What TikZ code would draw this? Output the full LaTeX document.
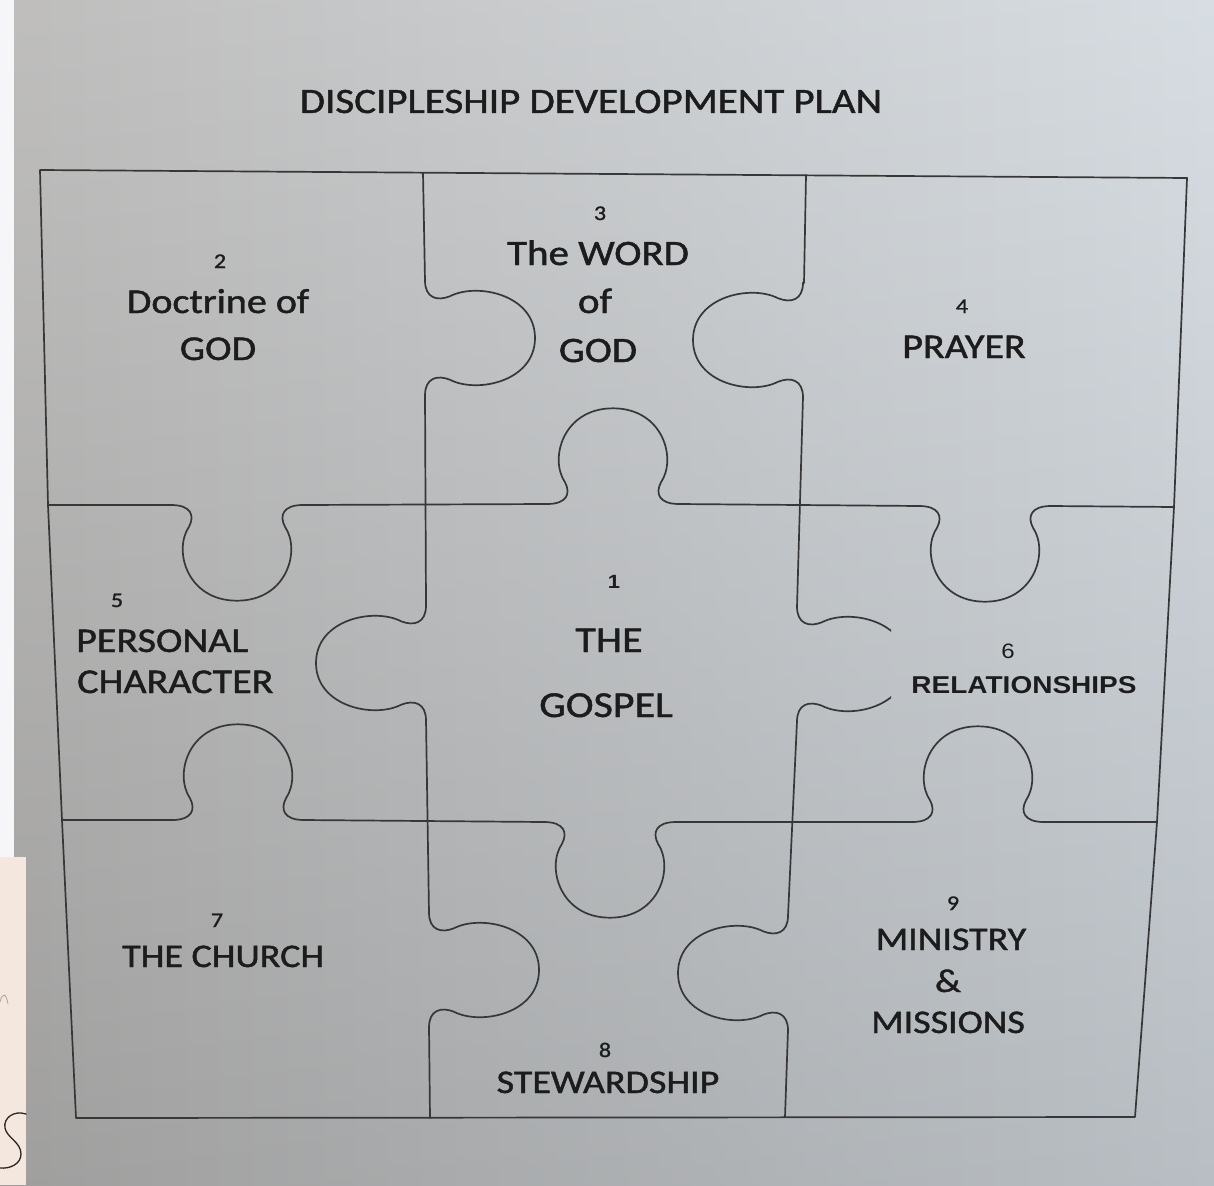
\documentclass[tikz,border=0pt]{standalone}
\usepackage{fontspec}
\usepackage{graphicx}
\setmainfont{Carlito}[FakeBold=1.2]
\newfontfamily\relfont{Liberation Sans}
\definecolor{ink}{RGB}{28,28,28}
\definecolor{linec}{RGB}{55,55,55}
\definecolor{bgl}{RGB}{182,181,180}
\definecolor{bgr}{RGB}{210,217,223}
\definecolor{stripc}{RGB}{246,246,248}
\definecolor{paperc}{RGB}{244,231,221}
\newcommand\sq[1]{\scalebox{1}[0.87]{#1}}
\tikzset{
  pline/.style={draw=linec, line width=1.7pt, line cap=round, line join=round},
  lbl/.style={inner sep=0pt, anchor=base, text=ink, font=\fontsize{40}{40}\selectfont},
  lblw/.style={lbl, anchor=base west},
  num/.style={inner sep=0pt, anchor=base, text=ink, font=\fontsize{24}{24}\selectfont},
}
\newcommand\jigtab[3]{%
  \begin{scope}[shift={(#1,#2)}, yscale=0.87, rotate=#3]
    \draw[pline] (-66,0) .. controls (-46,0) and (-42,12) .. (-48,25)
      .. controls (-64,52) and (-50,110) .. (0,110)
      .. controls (50,110) and (64,52) .. (48,25)
      .. controls (42,12) and (46,0) .. (66,0);
  \end{scope}}
\begin{document}
\begin{tikzpicture}[x=1pt,y=-1pt]
\useasboundingbox (0,0) rectangle (1214,1185);
% background
\shade[left color=bgl, right color=bgr] (0,0) rectangle (1214,1185);
\shade[top color=white, bottom color=black, opacity=0.12] (0,0) rectangle (1214,1185);
\fill[stripc] (0,0) rectangle (14,857);
\fill[paperc] (0,857) rectangle (26,1185);
\draw[gray!70, line width=0.8pt] (0,1002) .. controls (2,993) and (6,992) .. (8,1004);
\draw[black!85, line width=1.3pt, line cap=round] (26,1114) .. controls (14,1110) and (3,1118) .. (5,1128)
  .. controls (7,1138) and (21,1142) .. (21,1154) .. controls (21,1164) and (10,1169) .. (0,1168);

% outer frame
\draw[pline] (40,170) -- (1187,178) -- (1174,507) -- (1157,822) -- (1135,1117)
  -- (76,1118) -- (62,820) -- (48,505) -- cycle;

% horizontal line 1
\draw[pline] (48,505) -- (171,505);
\jigtab{237}{505}{0}
\draw[pline] (303,505) -- (547,504);
\jigtab{613}{504}{180}
\draw[pline] (679,504) -- (919,506);
\jigtab{985}{506}{0}
\draw[pline] (1051,506) -- (1174,507);

% horizontal line 2
\draw[pline] (62,820) -- (172,820);
\jigtab{238}{820}{180}
\draw[pline] (304,820) -- (544,822);
\jigtab{610}{822}{0}
\draw[pline] (676,822) -- (912,822);
\jigtab{978}{822}{180}
\draw[pline] (1044,822) -- (1157,822);

% vertical line 1
\draw[pline] (423,173) -- (425,281);
\jigtab{425}{338}{90}
\draw[pline] (425,395) -- (426,606);
\jigtab{426}{663}{-90}
\draw[pline] (426,720) -- (429,913);
\jigtab{429}{970}{90}
\draw[pline] (429,1027) -- (430,1118);

% vertical line 2
\draw[pline] (806,175) -- (804,283);
\jigtab{803}{340}{-90}
\draw[pline] (803,397) -- (797,607);
\begin{scope}
  \clip (0,0) rectangle (891,1185);
  \jigtab{797}{664}{90}
\end{scope}
\draw[pline] (797,721) -- (788,916);
\jigtab{788}{973}{-90}
\draw[pline] (788,1030) -- (785,1117);

% title
\node[lbl, font=\fontsize{41}{41}\selectfont] (title) at (591,113) {\sq{DISCIPLESHIP DEVELOPMENT PLAN}};

% piece 2
\node[num] (n2) at (220,268) {\sq{2}};
\node[lbl] (p2a) at (218,313) {\sq{Doctrine of}};
\node[lbl] (p2b) at (218,360) {\sq{GOD}};
% piece 3
\node[num] (n3) at (600,220) {\sq{3}};
\node[lbl, font=\fontsize{41}{41}\selectfont] (p3a) at (598,265) {\sq{The WORD}};
\node[lbl, font=\fontsize{41}{41}\selectfont] (p3b) at (595,313) {\sq{of}};
\node[lbl, font=\fontsize{41}{41}\selectfont] (p3c) at (598,362) {\sq{GOD}};
% piece 4
\node[num] (n4) at (962,313) {\sq{4}};
\node[lbl] (p4) at (964,358) {\sq{PRAYER}};
% piece 5
\node[num] (n5) at (117,607) {\sq{5}};
\node[lblw] (p5a) at (76,652) {\sq{PERSONAL}};
\node[lblw] (p5b) at (77,693) {\sq{CHARACTER}};
% piece 1
\node[num, font=\relfont\bfseries\fontsize{22}{22}\selectfont] (n1) at (614,588) {\sq{1}};
\node[lbl, font=\fontsize{42}{42}\selectfont] (p1a) at (609,652) {\sq{THE}};
\node[lbl, font=\fontsize{42}{42}\selectfont] (p1b) at (606,717) {\sq{GOSPEL}};
% piece 6
\node[num, font=\relfont\fontsize{24}{24}\selectfont] (n6) at (1008,658) {\sq{6}};
\node[lbl, font=\relfont\bfseries\fontsize{28}{28}\selectfont] (p6) at (1024,693) {\sq{RELATIONSHIPS}};
% piece 7
\node[num] (n7) at (217,927) {\sq{7}};
\node[lblw, font=\fontsize{38}{38}\selectfont] (p7) at (122,967) {\sq{THE CHURCH}};
% piece 8
\node[num] (n8) at (605,1057) {\sq{8}};
\node[lbl, font=\fontsize{38}{38}\selectfont] (p8) at (608,1093) {\sq{STEWARDSHIP}};
% piece 9
\node[num] (n9) at (953,910) {\sq{9}};
\node[lbl, font=\fontsize{38}{38}\selectfont] (p9a) at (951,950) {\sq{MINISTRY}};
\node[lbl, font=\fontsize{38}{38}\selectfont] (p9b) at (948,992) {\sq{\&}};
\node[lbl, font=\fontsize{38}{38}\selectfont] (p9c) at (948,1033) {\sq{MISSIONS}};
\end{tikzpicture}
\end{document}
